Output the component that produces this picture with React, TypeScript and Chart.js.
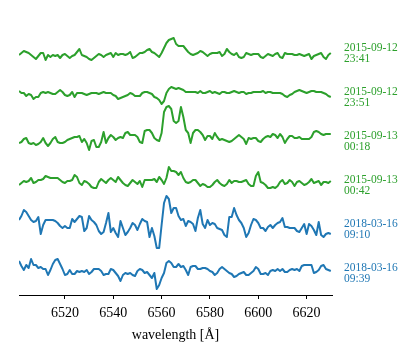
import React, { useEffect, useRef } from "react";
import { Chart, registerables } from "chart.js";

Chart.register(...registerables);

// Wavelength grid (Å)
const WL_START = 6501;
const WL_STEP = 1;
const X_MIN = 6501;
const X_MAX = 6630.5;
const X_TICKS = [6520, 6540, 6560, 6580, 6600, 6620];

// Normalised flux (% of continuum) per observation
const FLUX_2015_09_12_2341 = [
  100, 102, 104, 103, 102, 100, 98, 96, 99, 102,
  102, 95, 100, 98, 100, 99, 100, 97, 100, 101,
  99, 97, 99, 100, 103, 106, 100, 99, 98, 96,
  95, 97, 99, 101, 100, 98, 100, 101, 102, 98,
  102, 100, 101, 101, 100, 101, 103, 97, 98, 100,
  102, 102, 103, 105, 106, 103, 102, 100, 98, 102,
  107, 112, 115, 116, 117, 111, 109, 109, 109, 106,
  103, 101, 100, 101, 102, 104, 103, 101, 99, 101,
  102, 102, 102, 103, 99, 101, 106, 103, 101, 100,
  102, 98, 97, 98, 102, 101, 100, 101, 101, 101,
  98, 97, 99, 101, 100, 99, 101, 102, 98, 97,
  102, 101, 101, 101, 100, 100, 101, 100, 99, 100,
  101, 96, 99, 100, 101, 102, 98, 96, 100, 102,
];

const FLUX_2015_09_12_2351 = [
  102, 100, 100, 97, 99, 98, 94, 96, 96, 100,
  101, 100, 101, 100, 99, 99, 101, 103, 101, 98,
  97, 98, 101, 96, 100, 100, 100, 99, 98, 99,
  100, 100, 100, 99, 100, 101, 100, 100, 100, 98,
  97, 94, 95, 96, 97, 98, 100, 99, 97, 97,
  97, 100, 101, 101, 100, 99, 96, 95, 93, 89,
  92, 100, 104, 106, 105, 104, 105, 104, 103, 101,
  101, 101, 101, 101, 100, 102, 100, 100, 101, 102,
  100, 101, 100, 99, 101, 101, 100, 100, 101, 102,
  101, 100, 101, 101, 99, 100, 100, 101, 101, 101,
  101, 102, 100, 101, 101, 100, 100, 100, 100, 99,
  97, 96, 98, 99, 101, 102, 103, 102, 101, 100,
  101, 102, 102, 101, 101, 101, 100, 99, 97, 96,
];

const FLUX_2015_09_13_0018 = [
  97, 98, 101, 102, 97, 96, 97, 95, 96, 98,
  102, 97, 94, 97, 101, 103, 98, 97, 97, 98,
  100, 101, 102, 103, 103, 104, 98, 101, 97, 90,
  99, 100, 93, 93, 98, 108, 97, 102, 105, 103,
  100, 102, 103, 102, 107, 108, 105, 105, 105, 103,
  98, 97, 109, 110, 110, 107, 102, 100, 99, 107,
  128, 133, 134, 131, 119, 117, 119, 133, 123, 110,
  107, 97, 107, 110, 110, 108, 105, 100, 104, 104,
  101, 107, 103, 100, 101, 100, 99, 98, 99, 101,
  103, 105, 103, 101, 96, 102, 101, 102, 102, 99,
  98, 101, 103, 104, 103, 106, 105, 102, 106, 103,
  97, 101, 104, 104, 102, 102, 103, 101, 101, 101,
  101, 103, 108, 109, 108, 106, 105, 106, 106, 106,
];

const FLUX_2015_09_13_0042 = [
  95, 97, 99, 98, 99, 102, 97, 98, 100, 100,
  101, 104, 103, 102, 102, 102, 102, 100, 98, 97,
  99, 99, 100, 105, 103, 97, 95, 99, 98, 96,
  93, 92, 92, 98, 101, 99, 97, 100, 102, 100,
  98, 103, 100, 97, 95, 94, 97, 100, 98, 96,
  99, 93, 100, 100, 100, 100, 101, 98, 103, 100,
  96, 102, 113, 109, 109, 108, 105, 108, 102, 98,
  97, 98, 100, 100, 97, 94, 96, 95, 93, 93,
  95, 98, 100, 97, 95, 94, 96, 100, 97, 99,
  99, 98, 98, 99, 100, 96, 94, 94, 104, 108,
  98, 97, 95, 92, 92, 93, 92, 94, 98, 100,
  96, 97, 100, 98, 94, 98, 99, 97, 95, 96,
  98, 101, 97, 98, 99, 95, 98, 98, 97, 99,
];

const FLUX_2018_03_16_0910 = [
  100, 104, 110, 108, 104, 100, 98, 99, 103, 86,
  95, 100, 100, 100, 100, 99, 97, 94, 92, 94,
  92, 92, 101, 98, 101, 104, 103, 89, 92, 104,
  100, 98, 95, 89, 86, 88, 97, 107, 88, 92,
  87, 83, 99, 92, 85, 88, 92, 97, 95, 90,
  96, 101, 99, 98, 83, 92, 84, 72, 72, 95,
  117, 124, 121, 107, 112, 112, 104, 100, 101, 94,
  99, 98, 96, 89, 102, 110, 96, 92, 100, 95,
  97, 96, 92, 91, 90, 85, 83, 103, 103, 112,
  105, 100, 97, 92, 83, 87, 95, 101, 100, 97,
  92, 92, 89, 93, 95, 92, 95, 97, 98, 102,
  93, 93, 92, 92, 92, 89, 88, 92, 96, 86,
  96, 94, 90, 85, 98, 85, 83, 86, 87, 86,
];

const FLUX_2018_03_16_0939 = [
  106, 101, 97, 102, 99, 108, 102, 102, 99, 100,
  98, 98, 92, 97, 103, 107, 108, 103, 98, 92,
  93, 97, 93, 93, 96, 95, 96, 95, 97, 93,
  95, 98, 98, 98, 96, 92, 93, 93, 98, 97,
  94, 91, 86, 92, 94, 93, 94, 92, 91, 96,
  98, 97, 94, 95, 92, 89, 94, 78, 82, 89,
  94, 104, 106, 104, 100, 100, 103, 100, 101, 97,
  92, 100, 101, 101, 98, 98, 99, 99, 98, 96,
  95, 92, 94, 98, 100, 98, 96, 94, 93, 90,
  91, 93, 94, 95, 92, 92, 94, 96, 100, 98,
  93, 93, 94, 92, 96, 97, 96, 98, 96, 98,
  95, 95, 97, 98, 97, 98, 96, 101, 102, 102,
  102, 102, 94, 95, 97, 101, 102, 98, 97, 96,
];

const SERIES = [
  FLUX_2015_09_12_2341,
  FLUX_2015_09_12_2351,
  FLUX_2015_09_13_0018,
  FLUX_2015_09_13_0042,
  FLUX_2018_03_16_0910,
  FLUX_2018_03_16_0939,
];
const OBS_DATES = ["2015-09-12", "2015-09-12", "2015-09-13", "2015-09-13", "2018-03-16", "2018-03-16"];
const OBS_TIMES = ["23:41", "23:51", "00:18", "00:42", "09:10", "09:39"];
const GREEN = "#2ca02c";
const BLUE = "#1f77b4";
const SERIES_COLORS = [GREEN, GREEN, GREEN, GREEN, BLUE, BLUE];
// vertical offsets applied to stack the spectra
const OFFSETS = [240, 202, 155, 115, 75, 28];
const LABEL_Y = [242, 197.5, 153.5, 109.5, 66, 21.5];
const LABEL_X = 6635.5;

const SERIF = '"Liberation Serif", "DejaVu Serif", "Times New Roman", serif';

const labelPlugin = {
  id: "obsLabels",
  afterDraw(chart: any) {
    const ctx = chart.ctx;
    const xs = chart.scales.x;
    const ys = chart.scales.y;
    ctx.save();
    ctx.font = `11.5px ${SERIF}`;
    ctx.textAlign = "left";
    ctx.textBaseline = "middle";
    const x = xs.getPixelForValue(LABEL_X);
    for (let i = 0; i < SERIES.length; i++) {
      const y = ys.getPixelForValue(LABEL_Y[i]);
      ctx.fillStyle = SERIES_COLORS[i];
      ctx.fillText(OBS_DATES[i], x, y - 5.5);
      ctx.fillText(OBS_TIMES[i], x, y + 5.5);
    }
    ctx.restore();
  },
};

export default function App() {
  const ref = useRef<HTMLCanvasElement | null>(null);

  useEffect(() => {
    if (!ref.current) return;
    const datasets = SERIES.map((s, k) => ({
      label: `${OBS_DATES[k]} ${OBS_TIMES[k]}`,
      data: s.map((v, i) => ({ x: WL_START + i * WL_STEP, y: v - 100 + OFFSETS[k] })),
      borderColor: SERIES_COLORS[k],
      backgroundColor: SERIES_COLORS[k],
      borderWidth: 2,
      pointRadius: 0,
      tension: 0,
      fill: false,
      borderJoinStyle: "round" as const,
    }));
    const chart = new Chart(ref.current, {
      type: "line",
      data: { datasets },
      options: {
        animation: false,
        responsive: false,
        devicePixelRatio: 1,
        layout: { padding: { left: 19, right: 83, top: 10, bottom: 15 } },
        plugins: {
          legend: { display: false },
          tooltip: { enabled: false },
        },
        scales: {
          x: {
            type: "linear",
            min: X_MIN,
            max: X_MAX,
            afterBuildTicks: (scale: any) => {
              scale.ticks = X_TICKS.map((v) => ({ value: v }));
            },
            afterFit: (scale: any) => {
              scale.height = 53;
            },
            ticks: {
              color: "#000",
              font: { family: SERIF, size: 14 },
              padding: 6,
              maxRotation: 0,
              autoSkip: false,
              callback: (v: any) => String(v),
            },
            grid: {
              display: true,
              drawOnChartArea: false,
              drawTicks: true,
              tickLength: 4,
              color: "#000",
              lineWidth: 1,
            },
            border: { display: true, color: "#000", width: 1 },
            title: {
              display: true,
              text: "wavelength [Å]",
              color: "#000",
              font: { family: SERIF, size: 14 },
              padding: { top: 4, bottom: 4 },
            },
          },
          y: {
            type: "linear",
            display: false,
            min: 0,
            max: 285,
          },
        },
      },
      plugins: [labelPlugin],
    });
    return () => chart.destroy();
  }, []);

  return (
    <div style={{ position: "absolute", left: 0, top: 0, width: 415, height: 363, background: "#fff" }}>
      <canvas ref={ref} width={415} height={363} />
    </div>
  );
}
